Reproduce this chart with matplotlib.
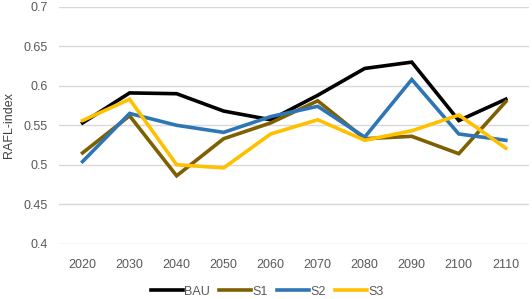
import matplotlib.pyplot as plt

plt.rcParams["font.family"] = ["Liberation Sans", "DejaVu Sans"]

years = ["2020", "2030", "2040", "2050", "2060", "2070", "2080", "2090", "2100", "2110"]
bau = [0.553, 0.591, 0.590, 0.568, 0.557, 0.588, 0.622, 0.630, 0.556, 0.583]
s1 = [0.515, 0.562, 0.486, 0.533, 0.553, 0.581, 0.533, 0.536, 0.514, 0.580]
s2 = [0.504, 0.565, 0.550, 0.541, 0.561, 0.574, 0.535, 0.608, 0.539, 0.531]
s3 = [0.556, 0.583, 0.500, 0.496, 0.539, 0.557, 0.531, 0.543, 0.563, 0.521]

series = [
    ("BAU", bau, "#000000"),
    ("S1", s1, "#7F6000"),
    ("S2", s2, "#2E75B6"),
    ("S3", s3, "#FFC000"),
]

fig = plt.figure(figsize=(5.32, 2.99), dpi=100)
ax = fig.add_axes([0.111, 0.185, 0.884, 0.792])

x = range(len(years))
for name, vals, color in series:
    ax.plot(x, vals, color=color, linewidth=2.6, label=name, solid_joinstyle="miter")

ax.set_xlim(-0.5, len(years) - 0.5)
ax.set_ylim(0.4, 0.7)
ax.set_yticks([0.4, 0.45, 0.5, 0.55, 0.6, 0.65, 0.7])
ax.set_yticklabels(["0.4", "0.45", "0.5", "0.55", "0.6", "0.65", "0.7"])
ax.set_xticks(list(x))
ax.set_xticklabels(years)
ax.tick_params(axis="y", length=0, labelsize=9, colors="#595959", pad=8)
ax.tick_params(axis="x", length=0, labelsize=9, colors="#595959", pad=11)
ax.set_ylabel("RAFL-index", fontsize=9, color="#404040", labelpad=6)

ax.grid(axis="y", color="#D9D9D9", linewidth=1)
ax.set_axisbelow(True)
for s in ax.spines.values():
    s.set_visible(False)

fig.legend(loc="center", bbox_to_anchor=(0.502, 0.025), ncol=4, frameon=False,
           fontsize=9, handlelength=2.6, handletextpad=0.1, columnspacing=0.7,
           labelcolor="#595959")

fig.savefig("out.png", dpi=100)
